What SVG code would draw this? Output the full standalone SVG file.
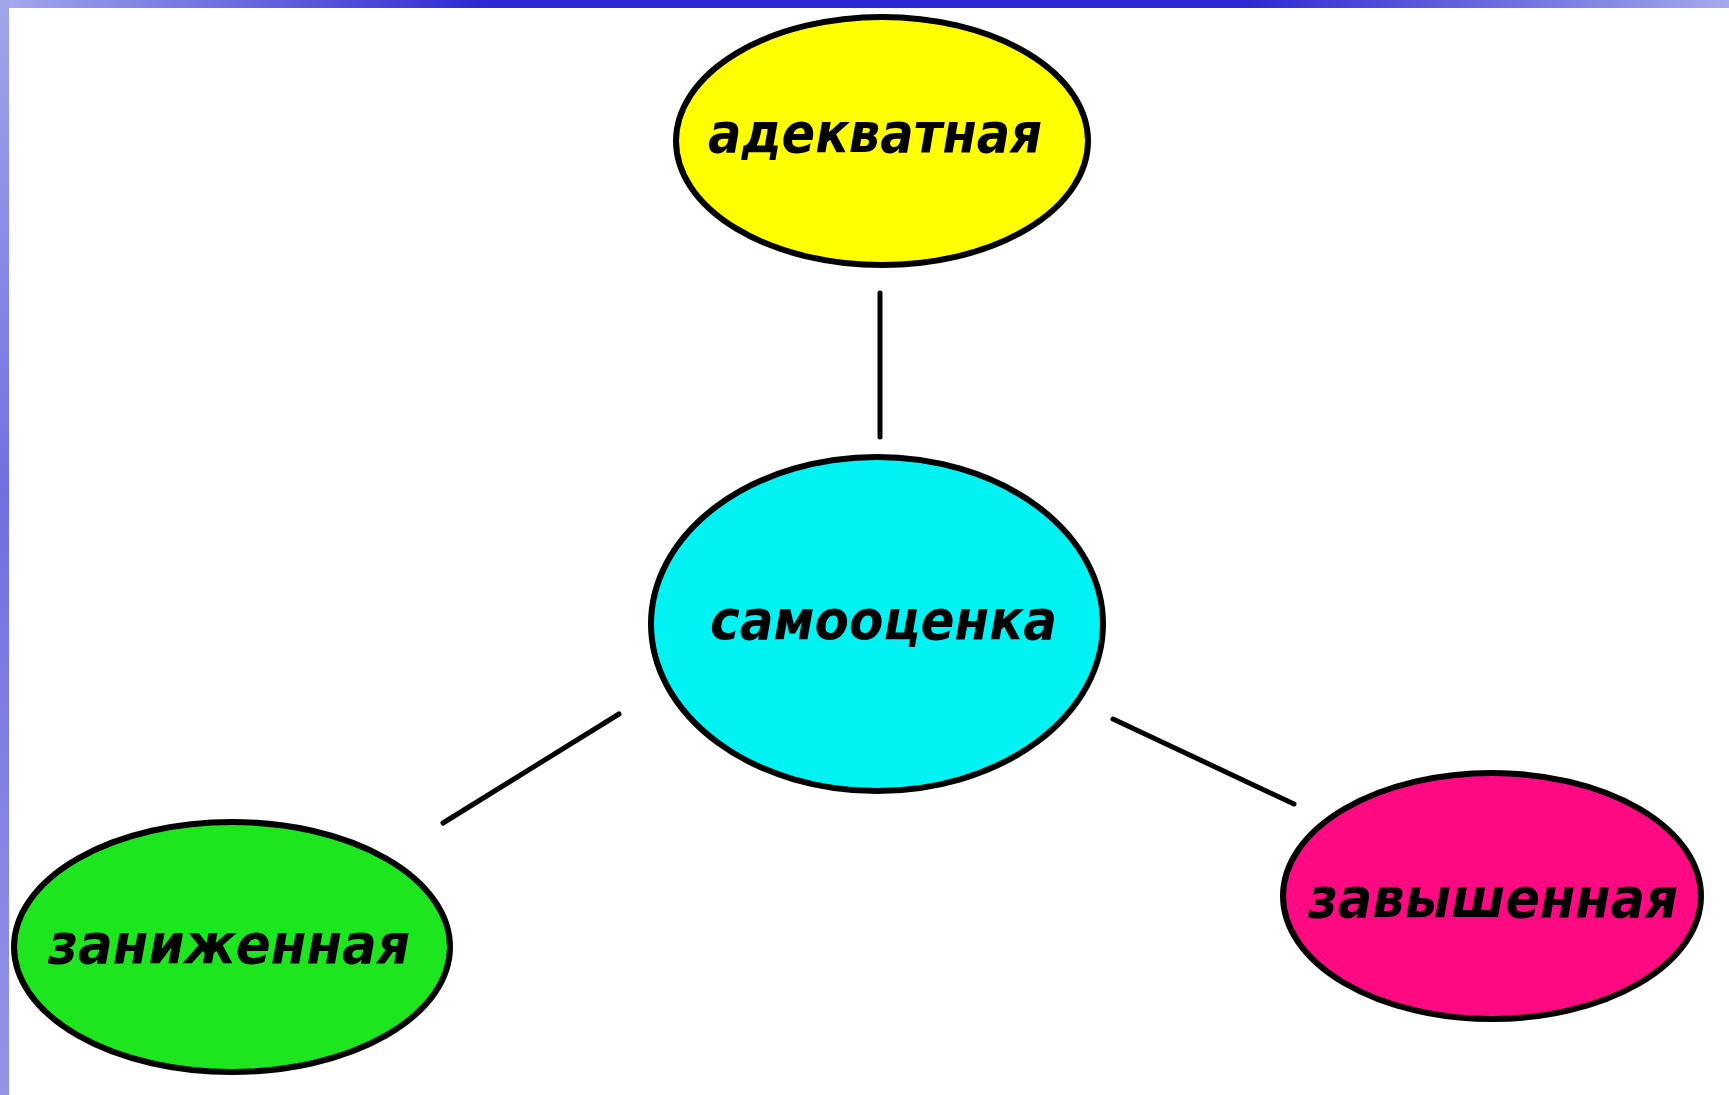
<svg xmlns="http://www.w3.org/2000/svg" width="1729" height="1095" viewBox="0 0 1729 1095">
  <defs>
    <linearGradient id="topbar" x1="0" y1="0" x2="1" y2="0">
      <stop offset="0" stop-color="#a4aaea"/>
      <stop offset="0.28" stop-color="#2e28d2"/>
      <stop offset="0.72" stop-color="#2e28d2"/>
      <stop offset="1" stop-color="#a4aaea"/>
    </linearGradient>
    <linearGradient id="leftbar" x1="0" y1="0" x2="0" y2="1">
      <stop offset="0" stop-color="#a0a6e8"/>
      <stop offset="0.45" stop-color="#7070e0"/>
      <stop offset="1" stop-color="#9494e4"/>
    </linearGradient>
    <style>
      .node { stroke: #000; stroke-width: 6; }
      .label { font-family: "DejaVu Sans", Verdana, sans-serif; font-weight: bold; font-style: italic; font-size: 55px; fill: #000; }
      .conn { stroke: #000; stroke-width: 5; stroke-linecap: round; fill: none; }
    </style>
  </defs>
  <rect x="0" y="0" width="1729" height="1095" fill="#ffffff"/>
  <rect x="0" y="0" width="1729" height="8" fill="url(#topbar)"/>
  <rect x="0" y="0" width="9" height="1095" fill="url(#leftbar)"/>

  <g id="connectors">
    <line class="conn" x1="880" y1="293" x2="880" y2="437"/>
    <line class="conn" x1="619" y1="714" x2="443" y2="823"/>
    <line class="conn" x1="1113" y1="719" x2="1294" y2="804"/>
  </g>

  <g id="node-adekvatnaya">
    <ellipse class="node" cx="882" cy="141" rx="206" ry="124" fill="#ffff00"/>
    <text class="label" x="708" y="152" textLength="334" lengthAdjust="spacingAndGlyphs">адекватная</text>
  </g>

  <g id="node-samootsenka">
    <ellipse class="node" cx="877" cy="624" rx="226" ry="167" fill="#00f2f2"/>
    <text class="label" x="710" y="639" textLength="347" lengthAdjust="spacingAndGlyphs">самооценка</text>
  </g>

  <g id="node-zanizhennaya">
    <ellipse class="node" cx="232" cy="947" rx="218" ry="125" fill="#1ee61e"/>
    <text class="label" x="48" y="963" textLength="362" lengthAdjust="spacingAndGlyphs">заниженная</text>
  </g>

  <g id="node-zavyshennaya">
    <ellipse class="node" cx="1492" cy="896" rx="209" ry="123" fill="#ff0a82"/>
    <text class="label" x="1308" y="917" textLength="370" lengthAdjust="spacingAndGlyphs">завышенная</text>
  </g>
</svg>
